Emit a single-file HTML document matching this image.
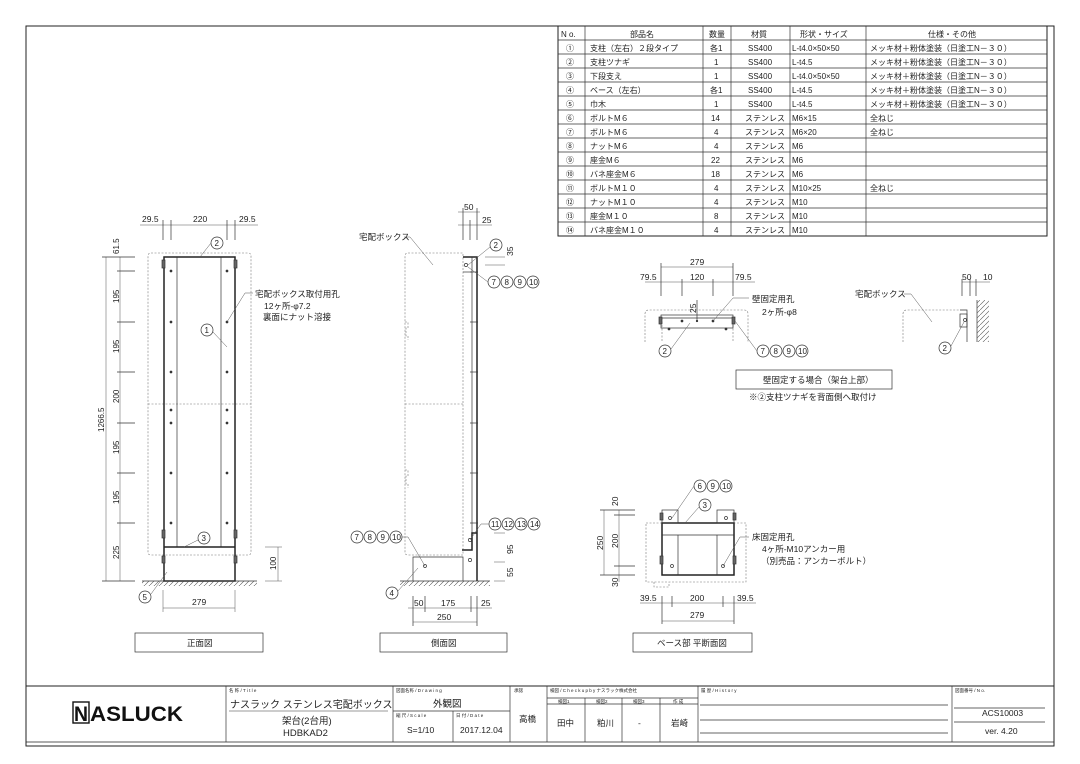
<!DOCTYPE html>
<html><head><meta charset="utf-8"><style>
html,body{margin:0;padding:0;background:#fff;}
svg{display:block;font-family:"Liberation Sans","Noto Sans CJK JP",sans-serif;}
text{fill:#222;font-size:8px;}
.t{font-size:8.5px}
.tb{font-size:8.8px}
.s{font-size:4.5px}
line,rect,path,polyline,circle{stroke:#333;fill:none;stroke-width:.7}
.th{stroke-width:1.5;stroke:#222}
.d{stroke:#777;stroke-dasharray:2 1.5;stroke-width:.6}
.l{stroke:#555;stroke-width:.5}
</style></head><body>
<svg width="1080" height="764" viewBox="0 0 1080 764" xmlns="http://www.w3.org/2000/svg">
<defs>
<pattern id="h" width="5" height="5" patternUnits="userSpaceOnUse"><line x1="0" y1="5" x2="5" y2="0" style="stroke:#555;stroke-width:.6"/></pattern>
</defs>
<rect x="26" y="26" width="1028" height="720" style="stroke:#222;stroke-width:1"/>

<g>
<rect x="558" y="26" width="489" height="210" style="stroke:#222;stroke-width:1"/>
<line x1="558" y1="40" x2="1047" y2="40"/><line x1="558" y1="54" x2="1047" y2="54"/><line x1="558" y1="68" x2="1047" y2="68"/><line x1="558" y1="82" x2="1047" y2="82"/><line x1="558" y1="96" x2="1047" y2="96"/><line x1="558" y1="110" x2="1047" y2="110"/><line x1="558" y1="124" x2="1047" y2="124"/><line x1="558" y1="138" x2="1047" y2="138"/><line x1="558" y1="152" x2="1047" y2="152"/><line x1="558" y1="166" x2="1047" y2="166"/><line x1="558" y1="180" x2="1047" y2="180"/><line x1="558" y1="194" x2="1047" y2="194"/><line x1="558" y1="208" x2="1047" y2="208"/><line x1="558" y1="222" x2="1047" y2="222"/>
<line x1="585" y1="26" x2="585" y2="236"/><line x1="703" y1="26" x2="703" y2="236"/><line x1="731" y1="26" x2="731" y2="236"/><line x1="790" y1="26" x2="790" y2="236"/><line x1="866" y1="26" x2="866" y2="236"/>
<g class="tb">
<text x="561" y="37">N o.</text><text x="630" y="37">部品名</text><text x="709" y="37">数量</text><text x="751" y="37">材質</text><text x="800" y="37">形状・サイズ</text><text x="928" y="37">仕様・その他</text>
<text x="566" y="51">①</text><text x="590" y="51">支柱（左右）２段タイプ</text><text x="710" y="51">各1</text><text x="748" y="51">SS400</text><text x="792" y="51">L-t4.0×50×50</text><text x="870" y="51">メッキ材＋粉体塗装（日塗工N－３０）</text>
<text x="566" y="65">②</text><text x="590" y="65">支柱ツナギ</text><text x="714" y="65">1</text><text x="748" y="65">SS400</text><text x="792" y="65">L-t4.5</text><text x="870" y="65">メッキ材＋粉体塗装（日塗工N－３０）</text>
<text x="566" y="79">③</text><text x="590" y="79">下段支え</text><text x="714" y="79">1</text><text x="748" y="79">SS400</text><text x="792" y="79">L-t4.0×50×50</text><text x="870" y="79">メッキ材＋粉体塗装（日塗工N－３０）</text>
<text x="566" y="93">④</text><text x="590" y="93">ベース（左右）</text><text x="710" y="93">各1</text><text x="748" y="93">SS400</text><text x="792" y="93">L-t4.5</text><text x="870" y="93">メッキ材＋粉体塗装（日塗工N－３０）</text>
<text x="566" y="107">⑤</text><text x="590" y="107">巾木</text><text x="714" y="107">1</text><text x="748" y="107">SS400</text><text x="792" y="107">L-t4.5</text><text x="870" y="107">メッキ材＋粉体塗装（日塗工N－３０）</text>
<text x="566" y="121">⑥</text><text x="590" y="121">ボルトM６</text><text x="711" y="121">14</text><text x="745" y="121">ステンレス</text><text x="792" y="121">M6×15</text><text x="870" y="121">全ねじ</text>
<text x="566" y="135">⑦</text><text x="590" y="135">ボルトM６</text><text x="714" y="135">4</text><text x="745" y="135">ステンレス</text><text x="792" y="135">M6×20</text><text x="870" y="135">全ねじ</text>
<text x="566" y="149">⑧</text><text x="590" y="149">ナットM６</text><text x="714" y="149">4</text><text x="745" y="149">ステンレス</text><text x="792" y="149">M6</text>
<text x="566" y="163">⑨</text><text x="590" y="163">座金M６</text><text x="711" y="163">22</text><text x="745" y="163">ステンレス</text><text x="792" y="163">M6</text>
<text x="566" y="177">⑩</text><text x="590" y="177">バネ座金M６</text><text x="711" y="177">18</text><text x="745" y="177">ステンレス</text><text x="792" y="177">M6</text>
<text x="566" y="191">⑪</text><text x="590" y="191">ボルトM１０</text><text x="714" y="191">4</text><text x="745" y="191">ステンレス</text><text x="792" y="191">M10×25</text><text x="870" y="191">全ねじ</text>
<text x="566" y="205">⑫</text><text x="590" y="205">ナットM１０</text><text x="714" y="205">4</text><text x="745" y="205">ステンレス</text><text x="792" y="205">M10</text>
<text x="566" y="219">⑬</text><text x="590" y="219">座金M１０</text><text x="714" y="219">8</text><text x="745" y="219">ステンレス</text><text x="792" y="219">M10</text>
<text x="566" y="233">⑭</text><text x="590" y="233">バネ座金M１０</text><text x="714" y="233">4</text><text x="745" y="233">ステンレス</text><text x="792" y="233">M10</text>
</g></g>

<!-- FRONT VIEW -->
<g>
<path class="d" d="M151,253 H248 Q251,253 251,256 V552 Q251,555 248,555 H151 Q148,555 148,552 V256 Q148,253 151,253 Z"/>
<line class="d" x1="148" y1="404" x2="251" y2="404"/>
<rect class="th" x="164" y="257" width="71" height="324"/>
<line x1="177" y1="257" x2="177" y2="547"/><line x1="221" y1="257" x2="221" y2="547"/>
<line class="th" x1="164" y1="547" x2="235" y2="547"/>
<rect x="162" y="260" width="3" height="8" style="fill:#666"/><rect x="234" y="260" width="3" height="8" style="fill:#666"/>
<rect x="162" y="530" width="3" height="8" style="fill:#666"/><rect x="234" y="530" width="3" height="8" style="fill:#666"/>
<rect x="162" y="556" width="3" height="7" style="fill:#666"/><rect x="234" y="556" width="3" height="7" style="fill:#666"/>
<g>
<circle cx="171" cy="271" r="1" style="fill:#333"/><circle cx="227" cy="271" r="1" style="fill:#333"/>
<circle cx="171" cy="322" r="1" style="fill:#333"/><circle cx="227" cy="322" r="1" style="fill:#333"/>
<circle cx="171" cy="372" r="1" style="fill:#333"/><circle cx="227" cy="372" r="1" style="fill:#333"/>
<circle cx="171" cy="410" r="1" style="fill:#333"/><circle cx="227" cy="410" r="1" style="fill:#333"/>
<circle cx="171" cy="423" r="1" style="fill:#333"/><circle cx="227" cy="423" r="1" style="fill:#333"/>
<circle cx="171" cy="473" r="1" style="fill:#333"/><circle cx="227" cy="473" r="1" style="fill:#333"/>
<circle cx="171" cy="523" r="1" style="fill:#333"/><circle cx="227" cy="523" r="1" style="fill:#333"/>
</g>
<rect x="142" y="581" width="115" height="5" style="stroke:none;fill:url(#h)"/>
<line x1="142" y1="581" x2="257" y2="581"/>
<line class="l" x1="106" y1="257" x2="106" y2="581"/><line class="l" x1="120" y1="257" x2="120" y2="581"/>
<g class="l"><line x1="102" y1="257" x2="135" y2="257"/><line x1="117" y1="271" x2="135" y2="271"/><line x1="117" y1="322" x2="135" y2="322"/><line x1="117" y1="372" x2="135" y2="372"/><line x1="117" y1="423" x2="135" y2="423"/><line x1="117" y1="473" x2="135" y2="473"/><line x1="117" y1="523" x2="135" y2="523"/><line x1="102" y1="581" x2="135" y2="581"/></g>
<g class="t">
<text transform="translate(119,254) rotate(-90)">61.5</text>
<text transform="translate(119,303) rotate(-90)">195</text>
<text transform="translate(119,353) rotate(-90)">195</text>
<text transform="translate(119,403) rotate(-90)">200</text>
<text transform="translate(119,454) rotate(-90)">195</text>
<text transform="translate(119,504) rotate(-90)">195</text>
<text transform="translate(119,559) rotate(-90)">225</text>
<text transform="translate(104,432) rotate(-90)">1266.5</text>
<text transform="translate(276,570) rotate(-90)">100</text>
</g>
<line class="l" x1="278" y1="547" x2="278" y2="581"/><line class="l" x1="265" y1="547" x2="282" y2="547"/><line class="l" x1="265" y1="581" x2="282" y2="581"/>
<line class="l" x1="140" y1="225" x2="258" y2="225"/>
<g class="l"><line x1="163" y1="220" x2="163" y2="240"/><line x1="171" y1="220" x2="171" y2="240"/><line x1="227" y1="220" x2="227" y2="240"/><line x1="235" y1="220" x2="235" y2="240"/></g>
<text class="t" x="142" y="222">29.5</text><text class="t" x="193" y="222">220</text><text class="t" x="239" y="222">29.5</text>
<line class="l" x1="163" y1="608" x2="235" y2="608"/><line class="l" x1="163" y1="590" x2="163" y2="612"/><line class="l" x1="235" y1="590" x2="235" y2="612"/>
<text class="t" x="192" y="605">279</text>
<circle cx="217" cy="243" r="6"/><text x="214.5" y="246">2</text><line class="l" x1="211" y1="243" x2="200" y2="257"/>
<circle cx="207" cy="330" r="6"/><text x="204.5" y="333">1</text><line class="l" x1="213" y1="332" x2="227" y2="347"/>
<circle cx="204" cy="538" r="6"/><text x="201.5" y="541">3</text><line class="l" x1="198" y1="540" x2="184" y2="547"/>
<circle cx="145" cy="597" r="6"/><text x="142.5" y="600">5</text><line class="l" x1="151" y1="594" x2="167" y2="572"/>
<line class="l" x1="227" y1="322" x2="245" y2="293"/><line class="l" x1="245" y1="293" x2="253" y2="293"/>
<text class="t" x="255" y="297">宅配ボックス取付用孔</text>
<text class="t" x="264" y="309">12ヶ所-φ7.2</text>
<text class="t" x="263" y="320">裏面にナット溶接</text>
<rect x="135" y="633" width="128" height="19"/><text class="t" x="187" y="646">正面図</text>
</g>

<!-- SIDE VIEW -->
<g>
<path class="d" d="M408,253 H463 V555 H408 Q405,555 405,552 V256 Q405,253 408,253 Z"/>
<line class="d" x1="405" y1="404" x2="463" y2="404"/>
<path class="d" d="M405,322 h3 v6 h-2 v8 h2 v4"/><path class="d" d="M405,470 h3 v6 h-2 v8 h2 v4"/>
<path class="th" d="M463,257 H477 V581"/><line x1="472" y1="257" x2="472" y2="548"/>
<line x1="463" y1="272" x2="472" y2="272"/>
<path class="th" d="M462,550 H472 V533 H477"/>
<path d="M413,581 V557 H463 V581"/>
<circle cx="466" cy="265" r="1.6"/><circle cx="470" cy="540" r="1.6"/><circle cx="470" cy="560" r="1.6"/><circle cx="425" cy="566" r="1.5"/>
<g class="l"><line x1="470" y1="272" x2="478" y2="272"/><line x1="470" y1="322" x2="478" y2="322"/><line x1="470" y1="372" x2="478" y2="372"/><line x1="470" y1="423" x2="478" y2="423"/><line x1="470" y1="473" x2="478" y2="473"/><line x1="470" y1="523" x2="478" y2="523"/></g>
<rect x="400" y="581" width="90" height="5" style="stroke:none;fill:url(#h)"/>
<line x1="400" y1="581" x2="490" y2="581"/>
<line class="l" x1="458" y1="212" x2="480" y2="212"/><line class="l" x1="458" y1="225" x2="492" y2="225"/>
<g class="l"><line x1="463" y1="208" x2="463" y2="240"/><line x1="470" y1="220" x2="470" y2="240"/><line x1="477" y1="208" x2="477" y2="240"/></g>
<text class="t" x="464" y="210">50</text><text class="t" x="482" y="223">25</text>
<line class="l" x1="485" y1="257" x2="505" y2="257"/><line class="l" x1="485" y1="265" x2="505" y2="265"/>
<text class="t" transform="translate(513,256) rotate(-90)">35</text>
<line class="l" x1="494" y1="533" x2="505" y2="533"/><line class="l" x1="494" y1="562" x2="505" y2="562"/><line class="l" x1="494" y1="581" x2="505" y2="581"/>
<text class="t" transform="translate(513,554) rotate(-90)">95</text><text class="t" transform="translate(513,577) rotate(-90)">55</text>
<line class="l" x1="408" y1="608" x2="492" y2="608"/>
<g class="l"><line x1="413" y1="596" x2="413" y2="626"/><line x1="425" y1="596" x2="425" y2="612"/><line x1="471" y1="596" x2="471" y2="612"/><line x1="477" y1="596" x2="477" y2="626"/></g>
<text class="t" x="414" y="606">50</text><text class="t" x="441" y="606">175</text><text class="t" x="481" y="606">25</text>
<line class="l" x1="413" y1="622" x2="477" y2="622"/><text class="t" x="437" y="620">250</text>
<text class="t" x="359" y="240">宅配ボックス</text><line class="l" x1="404" y1="237" x2="410" y2="237"/><line class="l" x1="410" y1="237" x2="433" y2="265"/>
<circle cx="496" cy="245" r="6"/><text x="493.5" y="248">2</text><line class="l" x1="490" y1="247" x2="468" y2="265"/>
<circle cx="494" cy="282" r="6"/><text x="491.5" y="285">7</text>
<circle cx="507" cy="282" r="6"/><text x="504.5" y="285">8</text>
<circle cx="520" cy="282" r="6"/><text x="517.5" y="285">9</text>
<circle cx="533" cy="282" r="6"/><text x="529" y="285">10</text>
<line class="l" x1="488" y1="282" x2="468" y2="267"/>
<circle cx="495" cy="524" r="6"/><text x="491" y="527">11</text>
<circle cx="508" cy="524" r="6"/><text x="504" y="527">12</text>
<circle cx="521" cy="524" r="6"/><text x="517" y="527">13</text>
<circle cx="534" cy="524" r="6"/><text x="530" y="527">14</text>
<line class="l" x1="489" y1="524" x2="481" y2="524"/><line class="l" x1="481" y1="524" x2="470" y2="540"/>
<circle cx="357" cy="537" r="6"/><text x="354.5" y="540">7</text>
<circle cx="370" cy="537" r="6"/><text x="367.5" y="540">8</text>
<circle cx="383" cy="537" r="6"/><text x="380.5" y="540">9</text>
<circle cx="396" cy="537" r="6"/><text x="392" y="540">10</text>
<line class="l" x1="402" y1="537" x2="408" y2="537"/><line class="l" x1="408" y1="537" x2="425" y2="566"/>
<circle cx="392" cy="593" r="6"/><text x="389.5" y="596">4</text><line class="l" x1="398" y1="591" x2="418" y2="568"/>
<rect x="380" y="633" width="127" height="19"/><text class="t" x="431" y="646">側面図</text>
</g>

<!-- WALL MOUNT VIEW -->
<g>
<path class="d" d="M645,342 V314 Q645,310 649,310 H744 Q748,310 748,314 V342"/>
<line class="d" x1="662" y1="318" x2="662" y2="342"/><line class="d" x1="733" y1="318" x2="733" y2="342"/>
<rect x="661" y="315" width="72" height="13"/><line x1="661" y1="318" x2="733" y2="318"/>
<rect x="659" y="317" width="3" height="7" style="fill:#666"/><rect x="732" y="317" width="3" height="7" style="fill:#666"/>
<circle cx="669" cy="329" r="1" style="fill:#333"/><circle cx="726" cy="329" r="1" style="fill:#333"/>
<circle cx="682" cy="321" r="1" style="fill:#333"/><circle cx="713" cy="321" r="1" style="fill:#333"/><circle cx="697" cy="321" r="0.8" style="fill:#333"/>
<line class="l" x1="661" y1="267" x2="733" y2="267"/><line class="l" x1="645" y1="282" x2="755" y2="282"/>
<g class="l"><line x1="661" y1="263" x2="661" y2="296"/><line x1="682" y1="279" x2="682" y2="296"/><line x1="713" y1="279" x2="713" y2="296"/><line x1="733" y1="263" x2="733" y2="296"/><line x1="697" y1="300" x2="697" y2="322"/></g>
<text class="t" x="690" y="265">279</text><text class="t" x="640" y="280">79.5</text><text class="t" x="690" y="280">120</text><text class="t" x="735" y="280">79.5</text>
<text class="t" transform="translate(696,313) rotate(-90)">25</text>
<text class="t" x="752" y="302">壁固定用孔</text><text class="t" x="762" y="315">2ヶ所-φ8</text>
<line class="l" x1="713" y1="321" x2="733" y2="298"/><line class="l" x1="733" y1="298" x2="749" y2="298"/>
<circle cx="665" cy="351" r="6"/><text x="662.5" y="354">2</text><line class="l" x1="671" y1="349" x2="690" y2="323"/>
<circle cx="763" cy="351" r="6"/><text x="760.5" y="354">7</text>
<circle cx="776" cy="351" r="6"/><text x="773.5" y="354">8</text>
<circle cx="789" cy="351" r="6"/><text x="786.5" y="354">9</text>
<circle cx="802" cy="351" r="6"/><text x="798" y="354">10</text>
<line class="l" x1="757" y1="351" x2="735" y2="321"/>
<rect x="736" y="370" width="156" height="19"/><text class="t" x="763" y="383">壁固定する場合（架台上部）</text>
<text class="t" x="749" y="400">※②支柱ツナギを背面側へ取付け</text>
<path class="d" d="M903,342 V314 Q903,310 907,310 H960"/>
<path d="M960,310 H967 V342"/><rect x="960" y="314" width="7" height="13"/>
<circle cx="965" cy="320" r="1.5"/>
<line x1="977" y1="300" x2="977" y2="342"/><rect x="977" y="300" width="12" height="42" style="stroke:none;fill:url(#h)"/>
<line class="l" x1="962" y1="282" x2="990" y2="282"/>
<g class="l"><line x1="962" y1="279" x2="962" y2="296"/><line x1="970" y1="279" x2="970" y2="296"/><line x1="976" y1="279" x2="976" y2="296"/></g>
<text class="t" x="962" y="280">50</text><text class="t" x="983" y="280">10</text>
<text class="t" x="855" y="297">宅配ボックス</text><line class="l" x1="904" y1="294" x2="911" y2="294"/><line class="l" x1="911" y1="294" x2="932" y2="322"/>
<circle cx="945" cy="348" r="6"/><text x="942.5" y="351">2</text><line class="l" x1="951" y1="346" x2="964" y2="322"/>
</g>

<!-- BASE PLAN -->
<g>
<path class="d" d="M646,523 H746 V582 H646 Z"/>
<rect class="th" x="662" y="523" width="72" height="52"/>
<line x1="662" y1="535" x2="734" y2="535"/>
<line x1="678" y1="535" x2="678" y2="575"/><line x1="717" y1="535" x2="717" y2="575"/>
<rect x="662" y="510" width="16" height="13"/><rect x="717" y="510" width="17" height="13"/>
<circle cx="670" cy="518" r="1.5"/><circle cx="726" cy="518" r="1.5"/>
<rect x="660" y="513" width="3" height="7" style="fill:#666"/><rect x="733" y="513" width="3" height="7" style="fill:#666"/>
<rect x="660" y="556" width="3" height="8" style="fill:#666"/><rect x="733" y="556" width="3" height="8" style="fill:#666"/>
<circle cx="672" cy="566" r="1.5"/><circle cx="723" cy="566" r="1.5"/>
<path class="d" d="M654,582 v5 h15 v-5"/>
<line class="l" x1="604" y1="510" x2="604" y2="575"/><line class="l" x1="619" y1="510" x2="619" y2="582"/>
<g class="l"><line x1="600" y1="510" x2="635" y2="510"/><line x1="614" y1="515" x2="635" y2="515"/><line x1="614" y1="566" x2="635" y2="566"/><line x1="600" y1="575" x2="635" y2="575"/></g>
<text class="t" transform="translate(618,506) rotate(-90)">20</text>
<text class="t" transform="translate(618,548) rotate(-90)">200</text>
<text class="t" transform="translate(603,550) rotate(-90)">250</text>
<text class="t" transform="translate(618,587) rotate(-90)">30</text>
<line class="l" x1="640" y1="603" x2="756" y2="603"/>
<g class="l"><line x1="662" y1="596" x2="662" y2="624"/><line x1="672" y1="596" x2="672" y2="607"/><line x1="723" y1="596" x2="723" y2="607"/><line x1="734" y1="596" x2="734" y2="624"/></g>
<text class="t" x="640" y="601">39.5</text><text class="t" x="690" y="601">200</text><text class="t" x="737" y="601">39.5</text>
<line class="l" x1="662" y1="621" x2="734" y2="621"/><text class="t" x="690" y="618">279</text>
<circle cx="700" cy="486" r="6"/><text x="697.5" y="489">6</text>
<circle cx="713" cy="486" r="6"/><text x="710.5" y="489">9</text>
<circle cx="726" cy="486" r="6"/><text x="722" y="489">10</text>
<line class="l" x1="694" y1="486" x2="672" y2="518"/>
<circle cx="705" cy="505" r="6"/><text x="702.5" y="508">3</text><line class="l" x1="699" y1="507" x2="685" y2="523"/>
<text class="t" x="752" y="540">床固定用孔</text><text class="t" x="762" y="552">4ヶ所-M10アンカー用</text><text class="t" x="761" y="564">（別売品：アンカーボルト）</text>
<line class="l" x1="723" y1="566" x2="740" y2="537"/><line class="l" x1="740" y1="537" x2="749" y2="537"/>
<rect x="633" y="633" width="119" height="19"/><text class="t" x="657" y="646">ベース部 平断面図</text>
</g>

<!-- TITLE BLOCK -->
<g>
<line x1="26" y1="686" x2="1054" y2="686" style="stroke:#222;stroke-width:1"/>
<line x1="26" y1="742" x2="1054" y2="742" style="stroke:#222;stroke-width:.8"/>
<g><line x1="226" y1="686" x2="226" y2="742"/><line x1="393" y1="686" x2="393" y2="742"/><line x1="510" y1="686" x2="510" y2="742"/><line x1="547" y1="686" x2="547" y2="742"/><line x1="698" y1="686" x2="698" y2="742"/><line x1="952" y1="686" x2="952" y2="742"/></g>
<line x1="393" y1="711" x2="510" y2="711"/><line x1="453" y1="711" x2="453" y2="742"/>
<line x1="547" y1="698" x2="698" y2="698"/><line x1="547" y1="704" x2="698" y2="704"/>
<line x1="585" y1="698" x2="585" y2="742"/><line x1="622" y1="698" x2="622" y2="742"/><line x1="660" y1="698" x2="660" y2="742"/>
<line x1="700" y1="705" x2="948" y2="705"/><line x1="700" y1="720" x2="948" y2="720"/><line x1="700" y1="733" x2="948" y2="733"/>
<line x1="954" y1="708" x2="1045" y2="708"/><line x1="954" y1="722" x2="1045" y2="722"/>
<text class="s" x="229" y="692">名 称 / T i t l e</text><text class="s" x="396" y="692">図面名称 / D r a w i n g</text><text class="s" x="514" y="692">承認</text><text class="s" x="550" y="692">検図 / C h e c k  u p  b y  ナスラック株式会社</text><text class="s" x="701" y="692">履 歴 / H i s t o r y</text><text class="s" x="955" y="692">図面番号 / N o.</text>
<text class="s" x="396" y="717">縮 尺 / S c a l e</text><text class="s" x="456" y="717">日 付 / D a t e</text>
<text class="s" x="558" y="703">検図1</text><text class="s" x="596" y="703">検図2</text><text class="s" x="633" y="703">検図3</text><text class="s" x="673" y="703">作 成</text>
<text x="230" y="708" style="font-size:10px">ナスラック ステンレス宅配ボックス</text>
<line x1="229" y1="711" x2="388" y2="711" style="stroke-width:.6"/>
<text x="282" y="724" style="font-size:9.5px">架台(2台用)</text><text x="283" y="736" style="font-size:9.5px">HDBKAD2</text>
<text x="433" y="707" style="font-size:9.5px">外観図</text>
<text x="407" y="733" class="t">S=1/10</text><text x="460" y="733" class="t">2017.12.04</text>
<text x="519" y="722" class="t">高橋</text><text x="557" y="726" class="t">田中</text><text x="597" y="726" class="t">粕川</text><text x="638" y="726" class="t">-</text><text x="671" y="726" class="t">岩崎</text>
<text x="982" y="716" class="t">ACS10003</text><text x="985" y="734" class="t">ver. 4.20</text>
<rect x="73" y="702" width="16" height="21" style="fill:#fff;stroke:#111;stroke-width:1.4"/>
<text x="74" y="721" style="font-size:21px;font-weight:bold;fill:#111" textLength="14" lengthAdjust="spacingAndGlyphs">N</text>
<text x="90" y="721" style="font-size:21px;font-weight:bold;fill:#111" textLength="93" lengthAdjust="spacingAndGlyphs">ASLUCK</text>
</g>
</svg>
</body></html>
